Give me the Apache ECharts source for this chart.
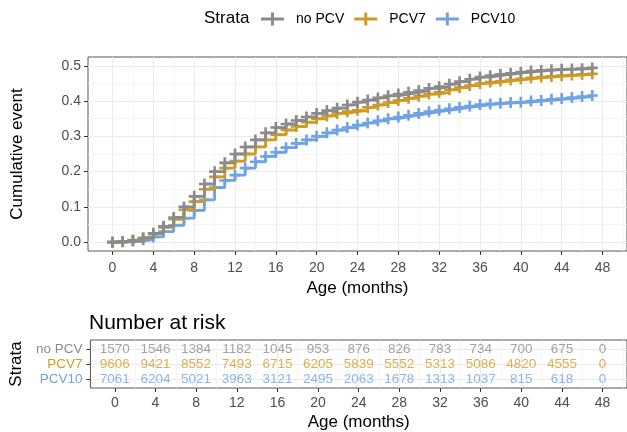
<!DOCTYPE html>
<html>
<head>
<meta charset="utf-8">
<script src="https://cdn.jsdelivr.net/npm/echarts@6/dist/echarts.min.js"></script>
<style>
html, body { margin: 0; padding: 0; background: #fff; }
#main { width: 627px; height: 432px; }
</style>
</head>
<body>
<div id="main"></div>
<script>
var months = [0,1,2,3,4,5,6,7,8,9,10,11,12,13,14,15,16,17,18,19,20,21,22,23,24,25,26,27,28,29,30,31,32,33,34,35,36,37,38,39,40,41,42,43,44,45,46,47];
var noPCV = [0,0.002,0.005,0.012,0.025,0.045,0.07,0.1,0.13,0.165,0.2,0.225,0.25,0.27,0.29,0.31,0.325,0.335,0.345,0.355,0.365,0.373,0.38,0.389,0.397,0.403,0.409,0.415,0.42,0.425,0.43,0.436,0.441,0.448,0.455,0.462,0.468,0.472,0.476,0.479,0.482,0.485,0.487,0.489,0.49,0.491,0.492,0.494];
var pcv7 = [0,0.002,0.006,0.012,0.024,0.042,0.065,0.092,0.115,0.15,0.185,0.21,0.23,0.25,0.27,0.29,0.305,0.318,0.328,0.34,0.35,0.358,0.365,0.37,0.374,0.382,0.389,0.396,0.402,0.408,0.414,0.42,0.425,0.432,0.438,0.444,0.45,0.454,0.457,0.46,0.463,0.466,0.468,0.47,0.472,0.474,0.476,0.477];
var pcv10 = [0,0.001,0.003,0.007,0.015,0.03,0.048,0.068,0.09,0.12,0.155,0.175,0.19,0.21,0.228,0.243,0.255,0.268,0.28,0.29,0.3,0.31,0.318,0.325,0.332,0.338,0.344,0.35,0.355,0.36,0.365,0.37,0.374,0.378,0.382,0.386,0.39,0.392,0.394,0.396,0.397,0.4,0.402,0.405,0.407,0.41,0.413,0.416];

var groups = ['no PCV', 'PCV7', 'PCV10'];
var colors = ['#8b8b8b', '#cf9b25', '#6fa3e3'];

var xTicks = [0,4,8,12,16,20,24,28,32,36,40,44,48];
var xMinor = [-2,2,6,10,14,18,22,26,30,34,38,42,46,50];
var yTicks = [0,0.1,0.2,0.3,0.4,0.5];
var yMinor = [0.05,0.15,0.25,0.35,0.45];

var riskTimes = [0,4,8,12,16,20,24,28,32,36,40,44,48];
var riskNoPCV = [1570,1546,1384,1182,1045,953,876,826,783,734,700,675,0];
var riskPCV7 = [9606,9421,8552,7493,6715,6205,5839,5552,5313,5086,4820,4555,0];
var riskPCV10 = [7061,6204,5021,3963,3121,2495,2063,1678,1313,1037,815,618,0];
var rowPos = { 'no PCV': 3, 'PCV7': 2, 'PCV10': 1 };

var font = 'Liberation Sans, Arial, sans-serif';
var cross = 'path://M3.8,0H6.2V10H3.8Z M0,3.8H10V6.2H0Z';

var chart = echarts.init(document.getElementById('main'));

function pairs(ys) {
  return months.map(function (m, i) { return [m, ys[i]]; });
}
function riskPairs(name, ns) {
  return riskTimes.map(function (t, i) { return [t, rowPos[name], ns[i]]; });
}

function majorX(gi, margin, gap) {
  return {
    type: 'value', gridIndex: gi, min: -2.4, max: 50.4, position: 'bottom',
    axisLine: { show: false, onZero: false },
    axisTick: { show: true, customValues: xTicks, length: 4, lineStyle: { color: '#333', width: 1 } },
    axisLabel: { customValues: xTicks, color: '#4d4d4d', fontSize: 14, margin: margin, fontFamily: font },
    splitLine: { show: true, lineStyle: { color: '#ebebeb', width: 1 } },
    name: 'Age (months)', nameLocation: 'middle', nameGap: gap,
    nameTextStyle: { color: '#000', fontSize: 17, fontFamily: font }
  };
}
function minorX(gi) {
  return {
    type: 'value', gridIndex: gi, min: -2.4, max: 50.4, position: 'top',
    axisLine: { show: false, onZero: false },
    axisTick: { show: false, customValues: xMinor },
    axisLabel: { show: false },
    splitLine: { show: true, lineStyle: { color: '#f4f4f4', width: 0.8 } }
  };
}

var series = [];
[noPCV, pcv7, pcv10].forEach(function (ys, i) {
  series.push({
    name: groups[i], type: 'line', xAxisIndex: 0, yAxisIndex: 0,
    data: pairs(ys), step: 'end',
    symbol: cross, symbolSize: 11, showAllSymbol: true,
    lineStyle: { color: colors[i], width: 2.8 },
    itemStyle: { color: colors[i] },
    emphasis: { disabled: true },
    z: 3 + (2 - i)
  });
});
[riskNoPCV, riskPCV7, riskPCV10].forEach(function (ns, i) {
  series.push({
    type: 'scatter', xAxisIndex: 2, yAxisIndex: 2,
    data: riskPairs(groups[i], ns),
    symbolSize: 1, itemStyle: { color: 'rgba(0,0,0,0)' },
    label: {
      show: true, position: 'inside',
      formatter: function (p) { return p.value[2]; },
      color: colors[i], fontSize: 13.5, fontFamily: font
    },
    silent: true
  });
});

chart.setOption({
  animation: false,
  textStyle: { fontFamily: font },
  legend: {
    data: groups, left: 261, top: 12, padding: 0,
    icon: 'path://M0,5H23V8H0Z M10,0H13V13H10Z',
    itemWidth: 23, itemHeight: 13, itemGap: 10,
    textStyle: { fontSize: 14, color: '#000', fontFamily: font, padding: [0, 0, 0, 7] }
  },
  graphic: [
    { type: 'text', left: 204, top: 10, style: { text: 'Strata', fill: '#000', font: '17px ' + font } },
    { type: 'text', left: 89, top: 313, style: { text: 'Number at risk', fill: '#000', font: '21px ' + font } }
  ],
  grid: [
    { left: 88, top: 57, width: 542, height: 194, show: true, borderColor: '#555', borderWidth: 1, backgroundColor: 'transparent' },
    { left: 88, top: 340, width: 542, height: 48, show: true, borderColor: '#555', borderWidth: 1, backgroundColor: 'transparent' }
  ],
  xAxis: [majorX(0, 10, 29), minorX(0), majorX(1, 8, 26), minorX(1)],
  yAxis: [
    {
      type: 'value', gridIndex: 0, min: -0.025, max: 0.525,
      axisLine: { show: false, onZero: false },
      axisTick: { show: true, customValues: yTicks, length: 4, lineStyle: { color: '#333' } },
      axisLabel: { customValues: yTicks, color: '#4d4d4d', fontSize: 14, margin: 7, fontFamily: font,
        formatter: function (v) { return v.toFixed(1); } },
      splitLine: { show: true, lineStyle: { color: '#ebebeb', width: 1 } },
      name: 'Cumulative event', nameLocation: 'middle', nameGap: 62,
      nameTextStyle: { color: '#000', fontSize: 17, fontFamily: font }
    },
    {
      type: 'value', gridIndex: 0, min: -0.025, max: 0.525, position: 'right',
      axisLine: { show: false, onZero: false },
      axisTick: { show: false, customValues: yMinor },
      axisLabel: { show: false },
      splitLine: { show: true, lineStyle: { color: '#f4f4f4', width: 0.8 } }
    },
    {
      type: 'value', gridIndex: 1, min: 0.4, max: 3.6,
      axisLine: { show: false, onZero: false },
      axisTick: { show: true, customValues: [1, 2, 3], length: 4, lineStyle: { color: '#333' } },
      axisLabel: {
        customValues: [1, 2, 3], margin: 8, fontSize: 13, fontFamily: font,
        formatter: function (v) {
          if (v === 3) return '{a|no PCV}';
          if (v === 2) return '{b|PCV7}';
          return '{c|PCV10}';
        },
        rich: {
          a: { color: colors[0], fontSize: 13.5, fontFamily: font },
          b: { color: colors[1], fontSize: 13.5, fontFamily: font },
          c: { color: colors[2], fontSize: 13.5, fontFamily: font }
        }
      },
      splitLine: { show: true, lineStyle: { color: '#ebebeb', width: 1 } },
      name: 'Strata', nameLocation: 'middle', nameGap: 65,
      nameTextStyle: { color: '#000', fontSize: 17, fontFamily: font }
    }
  ],
  series: series
});
</script>
</body>
</html>
